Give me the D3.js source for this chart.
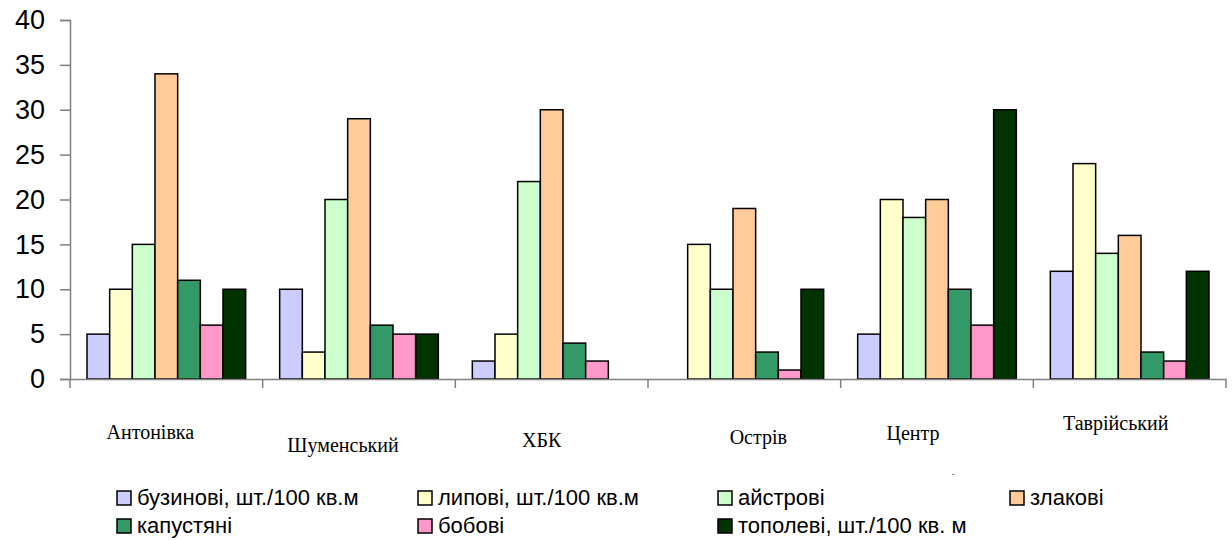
<!DOCTYPE html>
<html>
<head>
<meta charset="utf-8">
<script src="https://cdn.jsdelivr.net/npm/d3@7"></script>
<style>
  html, body { margin: 0; padding: 0; background: #fff; }
  svg { display: block; }
</style>
</head>
<body>
<svg id="chart" width="1232" height="540"></svg>
<script>
// Districts along the horizontal axis
const districts = ["Антонівка", "Шуменський", "ХБК", "Острів", "Центр", "Таврійський"];

// Plant groups (series)
const seriesNames = [
  "бузинові, шт./100 кв.м",
  "липові, шт./100 кв.м",
  "айстрові",
  "злакові",
  "капустяні",
  "бобові",
  "тополеві, шт./100 кв. м"
];

// Values per series, one entry per district
const buzynovi   = [5, 10, 2, 0, 5, 12];
const lypovi     = [10, 3, 5, 15, 20, 24];
const aistrovi   = [15, 20, 22, 10, 18, 14];
const zlakovi    = [34, 29, 30, 19, 20, 16];
const kapustiani = [11, 6, 4, 3, 10, 3];
const bobovi     = [6, 5, 2, 1, 6, 2];
const topolevi   = [10, 5, 0, 10, 30, 12];

const seriesValues = [buzynovi, lypovi, aistrovi, zlakovi, kapustiani, bobovi, topolevi];
const seriesColors = ["#CCCCFF", "#FFFFCC", "#CCFFCC", "#FFCC99", "#339966", "#FF99CC", "#003300"];

const yTicks = [0, 5, 10, 15, 20, 25, 30, 35, 40];

const svg = d3.select("#chart");

const plot = { left: 70, right: 1226, top: 20, bottom: 379 };

const x0 = d3.scaleBand()
  .domain(districts)
  .range([plot.left, plot.right])
  .paddingInner(0)
  .paddingOuter(0);

// Excel-style gap: 7 bars + 1.5 bar widths of gap per category
const barW = x0.bandwidth() / (seriesNames.length + 1.5);
const x1 = d3.scaleBand()
  .domain(d3.range(seriesNames.length))
  .range([0.75 * barW, 0.75 * barW + barW * seriesNames.length])
  .padding(0);

const y = d3.scaleLinear().domain([0, 40]).range([plot.bottom, plot.top]);

// Bars
const rows = [];
districts.forEach((d, i) => {
  seriesValues.forEach((vals, s) => {
    rows.push({ district: d, s, v: vals[i] });
  });
});

svg.append("g")
  .selectAll("rect")
  .data(rows.filter(r => r.v > 0))
  .join("rect")
  .attr("x", r => x0(r.district) + x1(r.s))
  .attr("y", r => y(r.v))
  .attr("width", x1.bandwidth())
  .attr("height", r => y(0) - y(r.v))
  .attr("fill", r => seriesColors[r.s])
  .attr("stroke", "#000")
  .attr("stroke-width", 1.5);

// Y axis
const yAxis = d3.axisLeft(y).tickValues(yTicks).tickSize(10).tickPadding(15);
const gy = svg.append("g")
  .attr("transform", `translate(${plot.left},0)`)
  .call(yAxis);
gy.select(".domain").attr("stroke", "#808080").attr("stroke-width", 1.5);
gy.selectAll(".tick line").attr("stroke", "#808080").attr("stroke-width", 1.5);
gy.selectAll(".tick text")
  .attr("font-family", "'Liberation Sans', Arial, sans-serif")
  .attr("font-size", 27)
  .attr("fill", "#000");

// X axis: baseline and category separators
const xAxis = d3.axisBottom(x0).tickValues([]).tickSizeOuter(0);
const gx = svg.append("g")
  .attr("transform", `translate(0,${plot.bottom})`)
  .call(xAxis);
gx.select(".domain").attr("stroke", "#808080").attr("stroke-width", 1.5);

const sepPositions = districts.map(d => x0(d)).concat([plot.right]);
gx.selectAll("line.sep")
  .data(sepPositions)
  .join("line")
  .attr("class", "sep")
  .attr("x1", d => d).attr("x2", d => d)
  .attr("y1", 0).attr("y2", 9)
  .attr("stroke", "#808080")
  .attr("stroke-width", 1.5);

// Category labels (serif, staggered heights)
const labelPos = [
  { dx: -16, y: 439 },
  { dx: -16, y: 452 },
  { dx: -10, y: 447 },
  { dx: 14, y: 444 },
  { dx: -24, y: 440 },
  { dx: -14, y: 430 }
];
svg.append("g")
  .selectAll("text")
  .data(districts)
  .join("text")
  .attr("x", (d, i) => x0(d) + x0.bandwidth() / 2 + labelPos[i].dx)
  .attr("y", (d, i) => labelPos[i].y)
  .attr("text-anchor", "middle")
  .attr("font-family", "'Liberation Serif', 'Times New Roman', serif")
  .attr("font-size", 20)
  .attr("fill", "#000")
  .text(d => d);

// Small stray mark below the axis labels
svg.append("text")
  .attr("x", 953).attr("y", 476)
  .attr("text-anchor", "middle")
  .attr("font-family", "'Liberation Sans', Arial, sans-serif")
  .attr("font-size", 8)
  .attr("fill", "#000")
  .text("-");

// Legend
const legendX = [117, 418, 718, 1010, 117, 418, 718];
const legendY = [491, 491, 491, 491, 519, 519, 519];
const legend = svg.append("g")
  .selectAll("g")
  .data(seriesNames)
  .join("g")
  .attr("transform", (d, i) => `translate(${legendX[i]},${legendY[i]})`);

legend.append("rect")
  .attr("width", 14).attr("height", 14)
  .attr("fill", (d, i) => seriesColors[i])
  .attr("stroke", "#000")
  .attr("stroke-width", 1.5);

legend.append("text")
  .attr("x", 20).attr("y", 14)
  .attr("font-family", "'Liberation Sans', Arial, sans-serif")
  .attr("font-size", 22)
  .attr("fill", "#000")
  .text(d => d);
</script>
</body>
</html>
